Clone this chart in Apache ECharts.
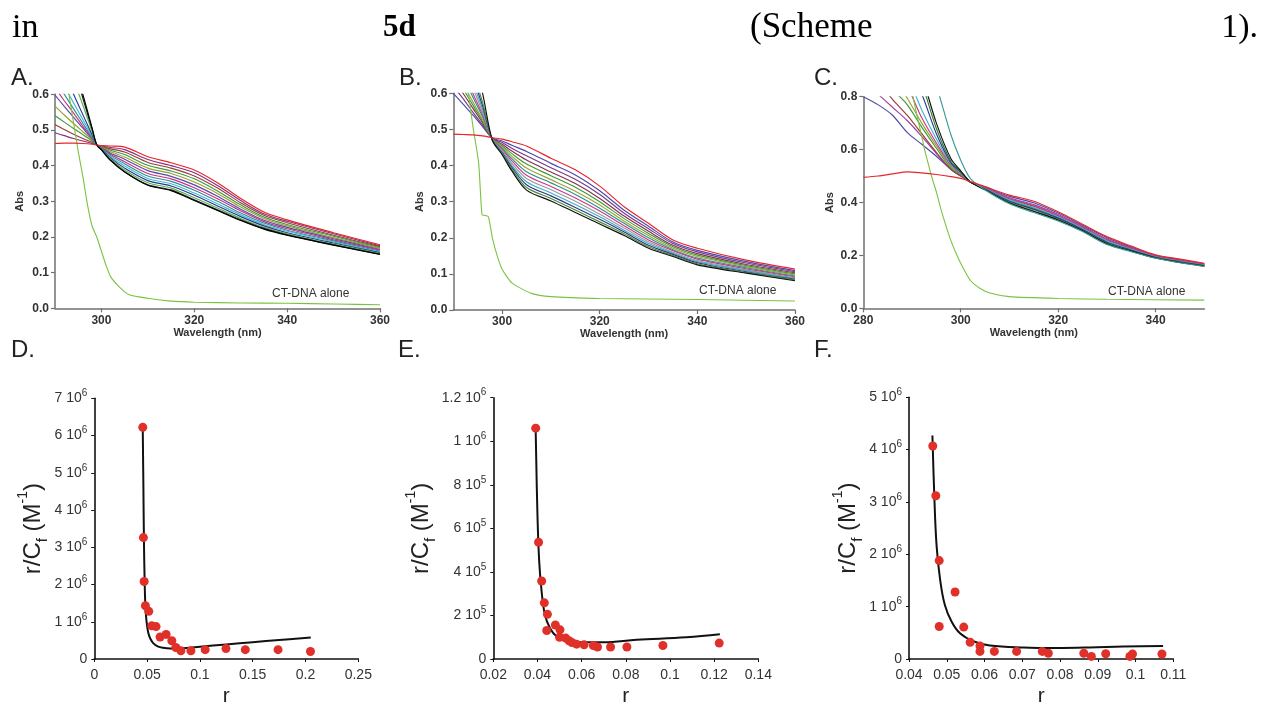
<!DOCTYPE html>
<html><head><meta charset="utf-8">
<script src="https://cdn.jsdelivr.net/npm/echarts@6/dist/echarts.min.js"></script>
<style>html,body{margin:0;padding:0;background:#fff}#c{width:1262px;height:708px}</style>
</head><body><div id="c"></div>
<script>
// ---------- Panel A (wavelength nm / Abs) ----------
const waveA = [290,292,294,296,298,299,300,302,305,310,315,320,325,330,335,340,350,360];
const a0  = [.462,.463,.463,.462,.460,.458,.456,.455,.452,.425,.408,.388,.352,.308,.270,.248,.212,.178];
const a1  = [.492,.484,.476,.469,.462,.458,.455,.451,.445,.417,.400,.380,.344,.302,.265,.244,.209,.175];
const a2  = [.515,.501,.488,.476,.465,.458,.454,.447,.438,.409,.393,.371,.337,.296,.261,.240,.205,.173];
const a3  = [.540,.522,.504,.487,.469,.458,.453,.443,.431,.401,.385,.363,.329,.290,.256,.235,.202,.170];
const a4  = [.567,.542,.518,.495,.472,.458,.452,.439,.424,.393,.378,.354,.322,.284,.252,.231,.198,.168];
const a5  = [.598,.566,.535,.505,.475,.458,.451,.435,.418,.386,.370,.346,.314,.278,.247,.227,.195,.165];
const a6  = [.618,.582,.547,.511,.476,.458,.450,.431,.411,.378,.363,.338,.307,.273,.243,.223,.192,.163];
const a7  = [.640,.600,.559,.519,.478,.458,.449,.428,.405,.371,.356,.331,.300,.267,.239,.219,.189,.160];
const a8  = [.670,.624,.576,.529,.482,.458,.448,.424,.399,.364,.349,.323,.293,.262,.235,.216,.186,.158];
const a9  = [.710,.657,.600,.543,.486,.458,.447,.421,.393,.358,.343,.317,.287,.257,.231,.212,.183,.156];
const a10 = [.780,.710,.640,.570,.495,.458,.446,.418,.388,.352,.337,.310,.281,.252,.227,.209,.180,.154];
const a11 = [.850,.760,.675,.589,.502,.458,.445,.415,.383,.346,.332,.304,.276,.248,.224,.206,.178,.152];
const a12 = [.870,.780,.690,.600,.505,.458,.444,.414,.382,.345,.330,.302,.274,.246,.222,.205,.177,.151];
const dnaAx = [292,293,294,295,296,297,298,299,300,301,302,304,306,310,315,320,330,340,350,360];
const dnaAy = [0.68,0.60,0.52,0.44,0.37,0.29,0.23,0.20,0.16,0.12,0.088,0.058,0.038,0.028,0.02,0.017,0.015,0.014,0.012,0.010];

// ---------- Panel B ----------
const waveB = [290,292,294,296,298,300,302,305,310,315,320,325,330,335,340,350,360];
const b0  = [.487,.486,.485,.482,.477,.473,.466,.454,.420,.388,.343,.286,.240,.194,.171,.138,.113];
const b1  = [.600,.570,.540,.508,.476,.468,.456,.439,.406,.374,.330,.276,.232,.188,.165,.134,.109];
const b2  = [.620,.585,.548,.512,.475,.464,.448,.427,.394,.362,.320,.268,.225,.184,.161,.130,.106];
const b3  = [.640,.600,.559,.518,.475,.459,.440,.415,.382,.350,.309,.260,.218,.179,.156,.126,.103];
const b4  = [.660,.613,.568,.522,.474,.455,.433,.404,.372,.340,.300,.253,.212,.175,.152,.123,.100];
const b5  = [.680,.626,.577,.527,.474,.452,.426,.393,.361,.329,.291,.246,.206,.171,.148,.120,.097];
const b6  = [.700,.645,.590,.535,.473,.448,.419,.383,.352,.320,.282,.240,.200,.167,.144,.117,.094];
const b7  = [.720,.660,.600,.540,.472,.445,.413,.373,.342,.310,.274,.233,.194,.164,.141,.114,.092];
const b8  = [.750,.680,.615,.548,.472,.441,.406,.364,.333,.301,.265,.227,.189,.160,.137,.111,.089];
const b9  = [.780,.700,.630,.556,.471,.438,.400,.355,.324,.292,.258,.221,.184,.157,.134,.109,.087];
const b10 = [.820,.730,.645,.565,.471,.435,.395,.347,.316,.284,.251,.216,.179,.154,.131,.106,.085];
const b11 = [.860,.760,.660,.575,.470,.433,.390,.339,.309,.277,.244,.211,.175,.151,.128,.104,.083];
const b12 = [.940,.820,.700,.600,.470,.430,.385,.332,.302,.270,.238,.206,.171,.148,.125,.102,.081];
const dnaBx = [292.5,293.1,294,295.2,295.9,296.5,297.2,298,299,300,302,306,310,320,340,360];
const dnaBy = [0.66,0.60,0.51,0.406,0.263,0.262,0.258,0.20,0.15,0.113,0.075,0.046,0.037,0.032,0.029,0.025];

// ---------- Panel C ----------
const waveC = [280,283,286,289,292,295,298,300,302,305,310,315,320,325,330,335,340,345,350];
const c0  = [.495,.500,.508,.516,.512,.506,.498,.491,.479,.460,.428,.405,.365,.318,.271,.235,.202,.186,.170];
const c1  = [.800,.770,.730,.665,.620,.575,.525,.500,.477,.458,.423,.399,.360,.314,.267,.232,.200,.184,.168];
const c2  = [.860,.810,.760,.710,.650,.585,.525,.500,.477,.456,.418,.392,.355,.310,.262,.229,.198,.182,.166];
const c3  = [.920,.860,.790,.730,.660,.590,.525,.502,.477,.454,.413,.386,.349,.305,.258,.226,.196,.180,.165];
const c4  = [.980,.920,.830,.770,.685,.605,.530,.505,.477,.452,.408,.379,.344,.301,.253,.222,.194,.178,.163];
const c5  = [1.00,.950,.880,.795,.700,.615,.535,.508,.477,.450,.403,.373,.339,.297,.249,.219,.192,.176,.161];
const c6  = [1.05,1.00,.920,.840,.720,.625,.540,.510,.477,.455,.415,.388,.351,.307,.259,.227,.197,.180,.165];
const c7  = [1.10,1.05,.970,.880,.750,.640,.545,.512,.477,.453,.410,.381,.346,.303,.255,.223,.195,.178,.163];
const c8  = [1.15,1.10,1.02,.920,.810,.660,.550,.515,.477,.451,.405,.375,.341,.298,.250,.220,.193,.176,.162];
const c9  = [1.20,1.15,1.07,.970,.850,.680,.555,.517,.477,.449,.400,.368,.335,.294,.246,.217,.191,.174,.160];
const c10 = [1.25,1.20,1.12,1.02,.880,.700,.565,.520,.477,.448,.398,.366,.334,.293,.244,.216,.190,.173,.159];
const c11 = [1.30,1.25,1.20,1.10,.980,.840,.655,.560,.490,.447,.395,.362,.330,.290,.241,.214,.189,.172,.158];
const dnaCx = [289.5,290.2,291,292,292.6,293,294,295,296,297,298,299,300,302,304,306,310,320,330,350];
const dnaCy = [0.86,0.80,0.73,0.65,0.598,0.57,0.50,0.44,0.37,0.31,0.255,0.21,0.17,0.105,0.075,0.058,0.044,0.037,0.034,0.031];

// ---------- Panels D, E, F (r vs r/Cf) ----------
const dR = [0.0459,0.0465,0.0472,0.0484,0.0516,0.0544,0.0585,0.0623,0.068,0.0734,0.0772,0.082,0.0915,0.105,0.1247,0.143,0.174,0.2047];
const dY = [6.22e6,3.26e6,2.08e6,1.43e6,1.28e6,0.89e6,0.87e6,0.59e6,0.66e6,0.49e6,0.31e6,0.22e6,0.22e6,0.25e6,0.28e6,0.25e6,0.25e6,0.20e6];
const dFitR = [0.0459,0.0465,0.047,0.0476,0.0484,0.0495,0.051,0.053,0.056,0.06,0.065,0.072,0.08,0.09,0.1,0.125,0.15,0.175,0.205];
const dFitY = [6.15e6,4.6e6,3.2e6,2.2e6,1.4e6,1.0e6,0.72e6,0.55e6,0.42e6,0.34e6,0.30e6,0.28e6,0.28e6,0.30e6,0.33e6,0.39e6,0.45e6,0.51e6,0.58e6];
const eR = [0.0392,0.0405,0.0419,0.0431,0.0445,0.0442,0.0481,0.0502,0.0500,0.0528,0.0543,0.0556,0.0577,0.0611,0.0653,0.0672,0.0731,0.0805,0.0968,0.1223];
const eY = [1.06e6,5.36e5,3.58e5,2.58e5,2.05e5,1.31e5,1.56e5,1.34e5,1.0e5,0.96e5,0.84e5,0.76e5,0.68e5,0.65e5,0.62e5,0.55e5,0.55e5,0.55e5,0.62e5,0.73e5];
const eFitR = [0.0392,0.04,0.0408,0.0419,0.0434,0.0457,0.0487,0.0532,0.0592,0.0698,0.085,0.1075,0.1226];
const eFitY = [1.045e6,6.6e5,4.45e5,3.08e5,2.02e5,1.41e5,1.03e5,0.84e5,0.77e5,0.77e5,0.88e5,1.0e5,1.14e5];
const fR = [0.0463,0.0471,0.048,0.048,0.0522,0.0545,0.0562,0.0588,0.0588,0.0626,0.0685,0.0753,0.0769,0.0863,0.0883,0.0921,0.0985,0.0992,0.107];
const fY = [4.07e6,3.12e6,1.88e6,0.62e6,1.28e6,0.61e6,0.32e6,0.25e6,0.145e6,0.145e6,0.145e6,0.145e6,0.11e6,0.11e6,0.05e6,0.10e6,0.05e6,0.095e6,0.095e6];
const fFitR = [0.0462,0.0467,0.0473,0.0482,0.0495,0.0513,0.0535,0.057,0.0614,0.0703,0.0791,0.0879,0.0967,0.1073];
const fFitY = [4.27e6,3.12e6,2.17e6,1.54e6,1.03e6,0.71e6,0.49e6,0.34e6,0.26e6,0.22e6,0.21e6,0.22e6,0.24e6,0.25e6];

// ---------- tick labels ----------
const specXTicksAB = [300,320,340,360];
const specXTicksC = [280,300,320,340];
const absLabelsAB = ['0.0','0.1','0.2','0.3','0.4','0.5','0.6'];
const absLabelsC = ['0.0','0.2','0.4','0.6','0.8'];
const dXLabels = ['0','0.05','0.1','0.15','0.2','0.25'];
const dYLabels = ['0','1 10^6','2 10^6','3 10^6','4 10^6','5 10^6','6 10^6','7 10^6'];
const eXLabels = ['0.02','0.04','0.06','0.08','0.1','0.12','0.14'];
const eYLabels = ['0','2 10^5','4 10^5','6 10^5','8 10^5','1 10^6','1.2 10^6'];
const fXLabels = ['0.04','0.05','0.06','0.07','0.08','0.09','0.1','0.11'];
const fYLabels = ['0','1 10^6','2 10^6','3 10^6','4 10^6','5 10^6'];

const colorsA = ['#e8262a','#8a2f7a','#9a3b3b','#3c9a3c','#98a030','#5b48a8','#c8308a','#2f8f8f','#45b8d8','#2b3a8f','#58b050','#222222','#000000'];
const colorsB = ['#e8262a','#4a4ab0','#7a3a8a','#8a3050','#3c9a3c','#9aa535','#2f8f8f','#c83a8a','#9a9a9a','#45a8c8','#2b3a7f','#4a8a3a','#111111'];
const colorsC = ['#e8262a','#4a4aa8','#a040a0','#9a3b3b','#3c9a3c','#98a030','#c83a8a','#45b0d0','#2b3a8f','#2e7d32','#111111','#3a9a9a'];

const curvesA = [a0,a1,a2,a3,a4,a5,a6,a7,a8,a9,a10,a11,a12];
const curvesB = [b0,b1,b2,b3,b4,b5,b6,b7,b8,b9,b10,b11,b12];
const curvesC = [c0,c1,c2,c3,c4,c5,c6,c7,c8,c9,c10,c11];

const FF = '"Liberation Sans", Arial, sans-serif';
const zip = (xs, ys) => xs.map((x, i) => [x, ys[i]]);

const series = [];
function spectra(idx, xs, curves, colors, dx, dy) {
  curves.forEach((ys, k) => {
    series.push({type:'line', xAxisIndex:idx, yAxisIndex:idx, data:zip(xs, ys), showSymbol:false, symbol:'none',
      smooth:0.3, lineStyle:{width:1.15, color:colors[k]}, z: k === 0 ? 4 : 2, silent:true});
  });
  series.push({type:'line', xAxisIndex:idx, yAxisIndex:idx, data:zip(dx, dy), symbol:'none', smooth:0.2,
    lineStyle:{width:1.1, color:'#7cc242'}, z:3, silent:true});
}
spectra(0, waveA, curvesA, colorsA, dnaAx, dnaAy);
spectra(1, waveB, curvesB, colorsB, dnaBx, dnaBy);
spectra(2, waveC, curvesC, colorsC, dnaCx, dnaCy);

function binding(idx, fx, fy, px, py) {
  series.push({type:'line', xAxisIndex:idx, yAxisIndex:idx, data:zip(fx, fy), symbol:'none', smooth:0.4,
    lineStyle:{width:2, color:'#111'}, z:2, silent:true});
  series.push({type:'scatter', xAxisIndex:idx, yAxisIndex:idx, data:zip(px, py), symbolSize:9,
    itemStyle:{color:'#e0302a', opacity:1}, z:3, silent:true});
}
binding(3, dFitR, dFitY, dR, dY);
binding(4, eFitR, eFitY, eR, eY);
binding(5, fFitR, fFitY, fR, fY);

const specAxisLine = {show:true, onZero:false, lineStyle:{color:'#707070', width:1.5}};
function specX(idx, min, max, ticks) {
  return {gridIndex:idx, type:'value', min, max,
    axisLine:specAxisLine,
    axisTick:{show:true, length:4, customValues:ticks, lineStyle:{color:'#707070', width:1.2}},
    axisLabel:{customValues:ticks, fontFamily:FF, fontWeight:'bold', fontSize:12, color:'#333', margin:6},
    splitLine:{show:false},
    name:'Wavelength (nm)', nameLocation:'middle', nameGap:17,
    nameTextStyle:{fontFamily:FF, fontWeight:'bold', fontSize:11, color:'#333'}};
}
function specY(idx, max, interval, labels, gap) {
  return {gridIndex:idx, type:'value', min:0, max, interval,
    axisLine:specAxisLine,
    axisTick:{show:true, length:4, lineStyle:{color:'#707070', width:1.2}},
    axisLabel:{formatter:(v, i) => labels[i], fontFamily:FF, fontWeight:'bold', fontSize:12, color:'#333', margin:6},
    splitLine:{show:false},
    name:'Abs', nameLocation:'middle', nameGap:gap, nameRotate:90,
    nameTextStyle:{fontFamily:FF, fontWeight:'bold', fontSize:11, color:'#333'}};
}
const bindAxisLine = {show:true, onZero:false, lineStyle:{color:'#111', width:1.6}};
function bindX(idx, min, max, interval, labels) {
  return {gridIndex:idx, type:'value', min, max, interval,
    axisLine:bindAxisLine,
    axisTick:{show:true, length:3, lineStyle:{color:'#111'}},
    axisLabel:{formatter:(v, i) => labels[i], fontFamily:FF, fontSize:14, color:'#333', margin:9},
    splitLine:{show:false},
    name:'r', nameLocation:'middle', nameGap:27,
    nameTextStyle:{fontFamily:FF, fontSize:21, color:'#222'}};
}
function bindY(idx, max, interval, labels) {
  return {gridIndex:idx, type:'value', min:0, max, interval,
    axisLine:bindAxisLine,
    axisTick:{show:true, length:3, lineStyle:{color:'#111'}},
    axisLabel:{
      formatter:(v, i) => {
        const s = labels[i];
        if (s.indexOf('^') < 0) return '{m|' + s + '}';
        const p = s.split('^');
        return '{m|' + p[0] + '}{e|' + p[1] + '}';
      },
      margin:7,
      rich:{
        m:{fontFamily:FF, fontSize:14, color:'#333', lineHeight:20},
        e:{fontFamily:FF, fontSize:10, color:'#333', lineHeight:10, verticalAlign:'top'}
      }
    },
    splitLine:{show:false},
    name:'{a|r/C}{s|f}{a| (M}{p|-1}{a|)}', nameLocation:'middle', nameGap:44, nameRotate:90,
    nameTextStyle:{rich:{
      a:{fontFamily:FF, fontSize:24, color:'#222', lineHeight:34},
      s:{fontFamily:FF, fontSize:15, color:'#222', lineHeight:15, verticalAlign:'bottom'},
      p:{fontFamily:FF, fontSize:14, color:'#222', lineHeight:14, verticalAlign:'top'}
    }}};
}

function txt(text, x, y, font, align, fill) {
  return {type:'text', x, y, silent:true,
    style:{text, font, fill:fill || '#111', textAlign:align || 'left', align:align || 'left',
      textVerticalAlign:'middle', verticalAlign:'middle'}};
}
const serif = '"Liberation Serif", "Times New Roman", serif';
const graphic = [
  txt('in', 12, 28, '34px ' + serif, 'left', '#000'),
  txt('5d', 383, 28, 'bold 31px ' + serif, 'left', '#000'),
  txt('(Scheme', 750, 28, '35px ' + serif, 'left', '#000'),
  txt('1).', 1258, 28, '34px ' + serif, 'right', '#000'),
  txt('A.', 11, 78, '24px ' + FF, 'left', '#222'),
  txt('B.', 399, 78, '24px ' + FF, 'left', '#222'),
  txt('C.', 814, 78, '24px ' + FF, 'left', '#222'),
  txt('D.', 11, 350, '24px ' + FF, 'left', '#222'),
  txt('E.', 398, 350, '24px ' + FF, 'left', '#222'),
  txt('F.', 814, 350, '24px ' + FF, 'left', '#222'),
  txt('CT-DNA alone', 272, 294, '12px ' + FF, 'left', '#333'),
  txt('CT-DNA alone', 699, 291, '12px ' + FF, 'left', '#333'),
  txt('CT-DNA alone', 1108, 292, '12px ' + FF, 'left', '#333')
];

const chart = echarts.init(document.getElementById('c'), null, {renderer:'canvas'});
chart.setOption({
  animation:false,
  backgroundColor:'#ffffff',
  grid:[
    {left:55, top:94.3, width:325, height:214},
    {left:453.3, top:93.3, width:341.7, height:216.7},
    {left:863.3, top:96.7, width:341, height:211.6},
    {left:94.3, top:398.3, width:264, height:263.4},
    {left:493.3, top:397.7, width:265, height:263.3},
    {left:909, top:397.3, width:264.3, height:263.7}
  ],
  xAxis:[
    specX(0, 290, 360, specXTicksAB),
    specX(1, 290, 360, specXTicksAB),
    specX(2, 280, 350, specXTicksC),
    bindX(3, 0, 0.25, 0.05, dXLabels),
    bindX(4, 0.02, 0.14, 0.02, eXLabels),
    bindX(5, 0.04, 0.11, 0.01, fXLabels)
  ],
  yAxis:[
    specY(0, 0.6, 0.1, absLabelsAB, 30),
    specY(1, 0.6, 0.1, absLabelsAB, 28),
    specY(2, 0.8, 0.2, absLabelsC, 28),
    bindY(3, 7e6, 1e6, dYLabels),
    bindY(4, 1.2e6, 2e5, eYLabels),
    bindY(5, 5e6, 1e6, fYLabels)
  ],
  series,
  graphic
});
</script></body></html>
